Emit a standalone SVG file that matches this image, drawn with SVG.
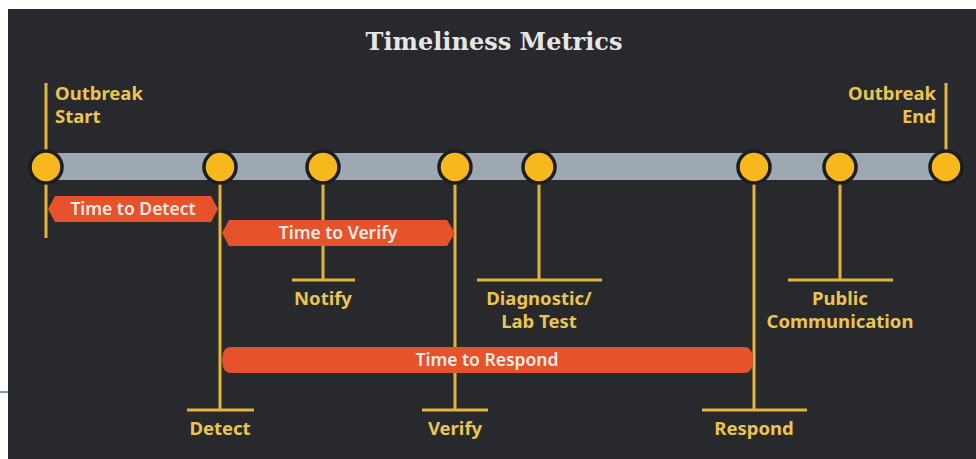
<svg xmlns="http://www.w3.org/2000/svg" width="976" height="459" viewBox="0 0 976 459">
  <defs>
    <style>
      .title { font-family: "DejaVu Serif", "Liberation Serif", serif; font-weight: bold; font-size: 24px; fill: #e6e6e6; }
      .lbl { font-family: "Noto Sans", "Open Sans", sans-serif; font-weight: bold; font-size: 18.5px; fill: #ecc452; }
      .span-lbl { font-family: "Noto Sans", "Open Sans", sans-serif; font-weight: 600; font-size: 17.5px; fill: #fbece4; }
      .stem { stroke: #e3b43a; stroke-width: 3; fill: none; }
      .foot { stroke: #e3b43a; stroke-width: 3; fill: none; }
      .dot { fill: #f6b81c; stroke: #1c1d20; stroke-width: 3.5; }
      .span { fill: #e6522c; }
    </style>
  </defs>

  <!-- page and panel -->
  <rect x="0" y="0" width="976" height="459" fill="#ffffff"/>
  <rect x="8" y="9" width="968" height="450" fill="#27292d"/>
  <line x1="0" y1="392" x2="8" y2="392" stroke="#4a78d0" stroke-width="1.5"/>

  <text class="title" x="494" y="50" text-anchor="middle">Timeliness Metrics</text>

  <!-- timeline track -->
  <rect x="46" y="153" width="900" height="27" fill="#9da8b2"/>

  <!-- stems and feet -->
  <g id="connectors">
    <line class="stem" x1="46" y1="83" x2="46" y2="238"/>
    <line class="stem" x1="946" y1="83" x2="946" y2="152"/>
    <line class="stem" x1="220" y1="182" x2="220" y2="410"/>
    <line class="foot" x1="187" y1="410" x2="254" y2="410"/>
    <line class="stem" x1="323" y1="182" x2="323" y2="280"/>
    <line class="foot" x1="292" y1="280" x2="355" y2="280"/>
    <line class="stem" x1="455" y1="182" x2="455" y2="410"/>
    <line class="foot" x1="422" y1="410" x2="488" y2="410"/>
    <line class="stem" x1="539" y1="182" x2="539" y2="280"/>
    <line class="foot" x1="477" y1="280" x2="602" y2="280"/>
    <line class="stem" x1="754" y1="182" x2="754" y2="410"/>
    <line class="foot" x1="702" y1="410" x2="807" y2="410"/>
    <line class="stem" x1="840" y1="182" x2="840" y2="280"/>
    <line class="foot" x1="788" y1="280" x2="893" y2="280"/>
  </g>

  <!-- duration spans -->
  <g id="span-detect">
    <path class="span" d="M55,196 H211 L218,209 L211,222 H55 L48,209 Z"/>
    <text class="span-lbl" x="133" y="215" text-anchor="middle">Time to Detect</text>
  </g>
  <g id="span-verify">
    <path class="span" d="M229,220 H447 L455,233 L447,246 H229 L222,233 Z"/>
    <text class="span-lbl" x="338" y="239" text-anchor="middle">Time to Verify</text>
  </g>
  <g id="span-respond">
    <path class="span" d="M231,347 H744 Q750,347 752,353 L753,360 L752,367 Q750,373 744,373 H231 Q225,373 223,367 L222,360 L223,353 Q225,347 231,347 Z"/>
    <text class="span-lbl" x="487" y="366" text-anchor="middle">Time to Respond</text>
  </g>

  <!-- milestones -->
  <g id="outbreak-start">
    <circle class="dot" cx="46" cy="167" r="16"/>
    <text class="lbl" x="55" y="100">Outbreak</text>
    <text class="lbl" x="55" y="123">Start</text>
  </g>
  <g id="detect">
    <circle class="dot" cx="220" cy="167" r="16"/>
    <text class="lbl" x="220" y="435" text-anchor="middle">Detect</text>
  </g>
  <g id="notify">
    <circle class="dot" cx="323" cy="167" r="16"/>
    <text class="lbl" x="323" y="305" text-anchor="middle">Notify</text>
  </g>
  <g id="verify">
    <circle class="dot" cx="455" cy="167" r="16"/>
    <text class="lbl" x="455" y="435" text-anchor="middle">Verify</text>
  </g>
  <g id="diagnostic">
    <circle class="dot" cx="539" cy="167" r="16"/>
    <text class="lbl" x="539" y="305" text-anchor="middle">Diagnostic/</text>
    <text class="lbl" x="539" y="328" text-anchor="middle">Lab Test</text>
  </g>
  <g id="respond">
    <circle class="dot" cx="754" cy="167" r="16"/>
    <text class="lbl" x="754" y="435" text-anchor="middle">Respond</text>
  </g>
  <g id="public-communication">
    <circle class="dot" cx="840" cy="167" r="16"/>
    <text class="lbl" x="840" y="305" text-anchor="middle">Public</text>
    <text class="lbl" x="840" y="328" text-anchor="middle">Communication</text>
  </g>
  <g id="outbreak-end">
    <circle class="dot" cx="946" cy="167" r="16"/>
    <text class="lbl" x="936" y="100" text-anchor="end">Outbreak</text>
    <text class="lbl" x="936" y="123" text-anchor="end">End</text>
  </g>
</svg>
